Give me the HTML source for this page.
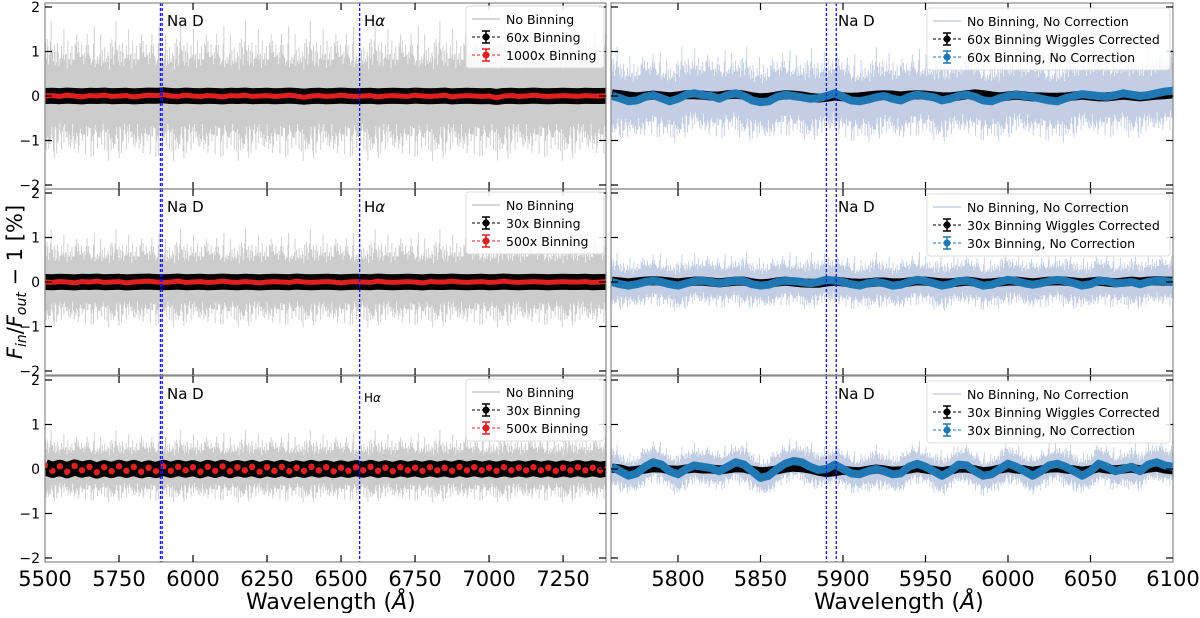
<!DOCTYPE html>
<html><head><meta charset="utf-8">
<style>
html,body{margin:0;padding:0;background:#fff;}
svg text{font-family:"DejaVu Sans","Liberation Sans",sans-serif;}
</style></head>
<body>
<svg id="c" width="1200" height="613" viewBox="0 0 1200 613" xmlns="http://www.w3.org/2000/svg"></svg>
<script>
// ---- data ----
const rowTops = [3, 189, 376];
const leftTickVals = [5500, 5750, 6000, 6250, 6500, 6750, 7000, 7250];
const rightTickVals = [5800, 5850, 5900, 5950, 6000, 6050, 6100];
const yTickVals = [-2, -1, 0, 1, 2];
const leftLines = [5889.95, 5895.92, 6562.8];
const rightLines = [5889.95, 5895.92];
const noiseJitter = [0.7,0.4,0.9,0.55,0.3,0.8,0.65,1.0,0.45,0.6,0.35,0.75,0.5,0.85,0.4,0.95,0.6,0.3,0.7,0.5,0.8,0.45,0.65,0.9,0.35,0.55,0.75,0.4,1.0,0.6,0.5,0.7,0.3,0.85,0.55,0.65,0.45,0.8,0.6,0.95,0.4,0.7,0.5,0.35,0.9,0.6,0.75,0.45,0.55,0.8,0.3,0.65,0.85,0.5,0.7,0.4,1.0,0.6,0.45,0.75,0.55,0.9,0.35,0.65,0.5,0.8,0.4,0.7,0.6,0.95,0.45,0.55,0.85,0.3,0.75,0.5,0.65,0.4,0.9,0.6,0.33];
const noiseAmpLeft = [1.35, 0.95, 0.7];
const noiseAmpRight = [0.9, 0.55, 0.45];
// right panel wavelengths 5760..6100 step 5
const blueR3 = [0.05,-0.05,-0.15,-0.1,0.05,0.15,0.1,-0.05,-0.12,0.0,0.08,0.05,0.02,-0.05,0.05,0.15,0.1,-0.05,-0.2,-0.15,0.0,0.12,0.18,0.15,0.05,-0.02,0.0,0.1,0.0,-0.1,-0.12,-0.05,0.0,-0.05,-0.12,-0.1,0.05,0.12,0.05,-0.05,-0.15,-0.05,0.1,0.08,-0.05,-0.15,-0.12,0.0,0.12,0.05,-0.05,-0.15,-0.05,0.08,0.12,0.05,-0.05,-0.15,-0.05,0.12,0.05,-0.05,0.0,0.05,-0.05,0.1,0.15,0.08,0.05];
const blackR3 = [0.02,0.0,-0.05,-0.03,0.0,0.03,0.02,-0.02,-0.03,0.0,0.02,0.0,0.0,-0.02,0.0,0.03,0.02,-0.03,-0.06,-0.05,-0.02,0.02,0.04,0.03,0.0,-0.05,-0.08,-0.06,-0.03,-0.05,-0.06,-0.03,0.0,-0.02,-0.05,-0.04,0.0,0.03,0.0,-0.03,-0.06,-0.03,0.02,0.02,-0.02,-0.06,-0.04,0.0,0.03,0.0,-0.02,-0.05,-0.02,0.02,0.03,0.0,-0.02,-0.05,-0.02,0.03,0.0,-0.02,0.0,0.02,-0.02,0.02,0.04,0.0,-0.02];
const blueR1 = [0.0,-0.05,-0.12,-0.1,-0.02,0.02,-0.05,-0.12,-0.06,0.03,0.06,0.02,0.0,-0.06,0.02,0.06,0.0,-0.1,-0.14,-0.12,-0.02,0.03,0.0,-0.03,-0.06,-0.05,0.0,0.06,-0.02,-0.1,-0.12,-0.08,-0.03,0.0,-0.06,-0.1,-0.02,0.03,0.0,-0.03,-0.1,-0.06,0.0,0.03,-0.02,-0.1,-0.12,-0.05,0.0,0.03,0.0,-0.02,-0.06,-0.1,-0.12,-0.05,0.0,0.04,0.02,0.0,-0.02,0.02,0.06,0.03,0.0,0.02,0.06,0.1,0.12];
const blackR1 = [0.05,0.03,0.0,-0.02,0.0,0.02,0.0,-0.02,0.0,0.03,0.03,0.02,0.0,0.0,0.03,0.04,0.02,-0.02,-0.04,-0.03,0.0,0.03,0.02,0.0,-0.03,-0.05,-0.03,0.0,-0.02,-0.03,-0.02,0.0,0.02,0.03,0.02,0.0,0.02,0.03,0.02,0.0,-0.02,-0.02,0.0,0.03,0.05,0.03,0.0,-0.02,0.0,0.02,0.0,-0.02,-0.02,-0.03,-0.03,-0.02,0.0,0.02,0.0,-0.02,-0.02,0.0,0.02,0.0,-0.02,0.0,0.02,0.03,0.05];
const blueR2 = [0.0,-0.05,-0.08,-0.05,0.0,0.03,0.0,-0.05,-0.08,-0.03,0.02,0.03,0.0,-0.03,0.0,0.03,0.02,-0.05,-0.08,-0.06,0.0,0.03,0.02,0.0,-0.03,0.0,0.05,0.03,0.0,-0.05,-0.08,-0.03,0.0,-0.03,-0.08,-0.06,0.0,0.05,0.02,-0.03,-0.08,-0.05,0.02,0.03,-0.02,-0.08,-0.06,0.0,0.05,0.02,-0.03,-0.06,-0.03,0.02,0.05,0.02,-0.03,-0.08,-0.05,0.03,0.02,-0.03,-0.02,0.0,-0.05,0.0,0.03,0.02,0.0];
const blackR2 = [0.02,0.0,-0.02,0.0,0.02,0.03,0.02,0.0,-0.02,0.0,0.02,0.02,0.0,-0.02,0.0,0.02,0.02,-0.02,-0.04,-0.03,0.0,0.02,0.0,-0.02,-0.03,-0.03,0.0,0.02,0.0,-0.02,-0.03,-0.02,0.0,0.0,-0.02,-0.02,0.0,0.03,0.02,0.0,-0.02,-0.02,0.0,0.02,0.0,-0.03,-0.02,0.0,0.02,0.02,0.0,-0.02,0.0,0.02,0.03,0.02,0.0,-0.02,0.0,0.02,0.0,-0.02,0.0,0.02,0.0,0.02,0.03,0.02,0.02];
// left panels 5500..7400 step 25
const redL3 = [0.08,-0.04,0.06,-0.06,0.07,-0.03,0.05,-0.07,0.04,-0.05,0.06,-0.04,0.05,-0.06,0.03,-0.05,0.06,-0.04,0.05,-0.03,0.04,-0.06,0.05,-0.04,0.06,-0.05,0.04,-0.03,0.05,-0.06,0.04,-0.04,0.05,-0.05,0.03,-0.04,0.05,-0.03,0.04,-0.05,0.03,-0.04,0.04,-0.03,0.05,-0.04,0.03,-0.05,0.04,-0.03,0.03,-0.04,0.04,-0.03,0.03,-0.04,0.05,-0.03,0.04,-0.03,0.03,-0.04,0.04,-0.03,0.03,-0.03,0.04,-0.03,0.03,-0.04,0.03,-0.03,0.04,-0.03,0.03,-0.03,0.02];
const redL1 = [0.0,0.01,-0.01,0.02,0.0,-0.02,0.01,0.0,0.02,-0.01,0.0,0.01,-0.02,0.0,0.02,0.01,0.03,0.0,-0.01,0.02,0.0,-0.01,0.01,0.0,-0.02,0.01,0.0,0.02,-0.01,0.0,0.01,-0.01,0.0,0.02,0.0,-0.03,0.0,0.01,-0.01,0.0,0.02,0.0,-0.01,0.0,0.01,-0.02,0.0,0.01,0.0,-0.01,0.02,0.0,-0.01,0.0,0.02,-0.02,0.0,0.01,0.0,-0.01,0.0,-0.04,0.0,0.01,-0.01,0.0,0.02,0.0,-0.01,0.0,0.01,0.0,-0.01,0.01,0.0,0.0,0.01];
const redL2 = [0.0,-0.01,0.01,0.0,-0.02,0.01,0.0,0.02,-0.01,0.0,0.01,-0.02,0.0,0.01,0.02,0.0,-0.01,0.0,0.02,-0.01,0.0,0.01,-0.01,0.0,0.02,0.0,-0.01,0.01,0.0,-0.02,0.0,0.01,0.0,-0.01,0.02,0.0,-0.01,0.0,0.01,0.0,-0.02,0.0,0.01,0.0,-0.01,0.02,0.0,-0.01,0.0,0.01,0.0,-0.02,0.01,0.0,0.0,0.02,0.0,-0.01,0.0,0.01,-0.01,0.0,0.02,0.0,-0.01,0.0,0.01,0.0,-0.01,0.0,0.01,0.0,0.0,0.01,-0.01,0.0,0.01];

const svg = document.getElementById('c');
const NS = 'http://www.w3.org/2000/svg';
function mk(tag, attrs, parent) {
  const e = document.createElementNS(NS, tag);
  for (const k in attrs) e.setAttribute(k, attrs[k]);
  (parent || svg).appendChild(e);
  return e;
}
const L = {x0: 45, x1: 606, w0: 5500, w1: 7395, id: 'L'};
const R = {x0: 611, x1: 1173, w0: 5759.4, w1: 6100, id: 'R'};
const H = 186, YMIN = -2.09, YMAX = 2.09;
function xs(p, w) { return p.x0 + (w - p.w0) / (p.w1 - p.w0) * (p.x1 - p.x0); }
function ys(top, v) { return top + (YMAX - v) / (YMAX - YMIN) * H; }
const defs = mk('defs', {});
function clipFor(p, top, r) {
  const id = 'clip' + p.id + r;
  const cp = mk('clipPath', {id: id}, defs);
  mk('rect', {x: p.x0, y: top, width: p.x1 - p.x0, height: H}, cp);
  return 'url(#' + id + ')';
}

function noise(g, p, top, amp, color, center) {
  let d = '';
  const n = noiseJitter.length;
  for (let x = p.x0 + 0.5, i = 0; x < p.x1; x += 0.8, i++) {
    const w = p.w0 + (x - p.x0) / (p.x1 - p.x0) * (p.w1 - p.w0);
    const c = center ? center(w) : 0;
    const up = amp * (0.35 + 0.95 * noiseJitter[i % n] * noiseJitter[(i * 13 + 5) % n]);
    const dn = amp * (0.35 + 0.95 * noiseJitter[(i * 7 + 37) % n] * noiseJitter[(i * 3 + 19) % n]);
    d += `M${x.toFixed(1)} ${ys(top, c + up).toFixed(1)}V${ys(top, c - dn).toFixed(1)}`;
  }
  mk('path', {d: d, stroke: color, 'stroke-width': 0.9, fill: 'none'}, g);
}
function interp(arr, w0, step) {
  return function (w) {
    let f = (w - w0) / step; let i = Math.floor(f);
    if (i < 0) return arr[0]; if (i >= arr.length - 1) return arr[arr.length - 1];
    f -= i; return arr[i] * (1 - f) + arr[i + 1] * f;
  };
}
function series(g, p, top, arr, w0, step, color, width, name) {
  let d = '';
  arr.forEach((v, i) => {
    const w = w0 + i * step;
    d += (d ? 'L' : 'M') + xs(p, w).toFixed(1) + ' ' + ys(top, v).toFixed(1);
  });
  const e = mk('path', {d: d, stroke: color, 'stroke-width': width, fill: 'none', 'stroke-linejoin': 'round'}, g);
  
  
}
function dots(g, p, top, arr, w0, step, color, r, name) {
  const gg = mk('g', {}, g);
  
  
  arr.forEach((v, i) => {
    mk('circle', {cx: xs(p, w0 + i * step).toFixed(1), cy: ys(top, v).toFixed(1), r: r, fill: color}, gg);
  });
}
function frame(p, top, showYLabels, ticks, name) {
  const g = mk('g', {});
  
  
  mk('rect', {x: p.x0, y: top, width: p.x1 - p.x0, height: H, fill: 'none', stroke: '#888', 'stroke-width': 1.2}, g);
  ticks.forEach(t => {
    const x = xs(p, t);
    if (x < p.x0 + 1 || x > p.x1 - 1) return;
    mk('line', {x1: x, x2: x, y1: top, y2: top + 7, stroke: '#000', 'stroke-width': 1.2}, g);
    mk('line', {x1: x, x2: x, y1: top + H, y2: top + H - 7, stroke: '#000', 'stroke-width': 1.2}, g);
  });
  yTickVals.forEach(v => {
    const y = ys(top, v);
    mk('line', {x1: p.x0, x2: p.x0 + 7, y1: y, y2: y, stroke: '#000', 'stroke-width': 1.2}, g);
    mk('line', {x1: p.x1, x2: p.x1 - 7, y1: y, y2: y, stroke: '#000', 'stroke-width': 1.2}, g);
    if (showYLabels) {
      const t = mk('text', {x: p.x0 - 5, y: y + 5, 'text-anchor': 'end', 'font-size': 14, fill: '#000'}, g);
      t.textContent = v < 0 ? '\u2212' + (-v) : String(v);
    }
  });
}
function vlines(g, p, top, arr) {
  arr.forEach(w => {
    const x = xs(p, w);
    const e = mk('line', {x1: x, x2: x, y1: top, y2: top + H, stroke: '#1010ff', 'stroke-width': 1.3, 'stroke-dasharray': '3,2'}, g);
    
    
  });
}
function label(x, y, txt, size, name) {
  const t = mk('text', {x: x, y: y, 'font-size': size, fill: '#000'});
  
  
  t.innerHTML = txt;
}
function legend(x, y, w, entries, name) {
  const g = mk('g', {});
  
  
  mk('rect', {x: x, y: y, width: w, height: 18 * entries.length + 8, rx: 3, fill: 'rgba(255,255,255,0.85)', stroke: '#ddd'}, g);
  entries.forEach((en, i) => {
    const cy = y + 13 + i * 18;
    if (en.type === 'line') {
      mk('line', {x1: x + 6, x2: x + 34, y1: cy, y2: cy, stroke: en.color, 'stroke-width': 1.5}, g);
    } else {
      mk('line', {x1: x + 6, x2: x + 34, y1: cy, y2: cy, stroke: en.color, 'stroke-width': 1, 'stroke-dasharray': '3,2'}, g);
      mk('line', {x1: x + 20, x2: x + 20, y1: cy - 6, y2: cy + 6, stroke: en.color, 'stroke-width': 1.5}, g);
      mk('line', {x1: x + 16, x2: x + 24, y1: cy - 6, y2: cy - 6, stroke: en.color, 'stroke-width': 1.5}, g);
      mk('line', {x1: x + 16, x2: x + 24, y1: cy + 6, y2: cy + 6, stroke: en.color, 'stroke-width': 1.5}, g);
      mk('circle', {cx: x + 20, cy: cy, r: 3.5, fill: en.color}, g);
    }
    const t = mk('text', {x: x + 40, y: cy + 5, 'font-size': 12.5, fill: '#000'}, g);
    t.textContent = en.text;
  });
}

const blueCenters = [interp(blueR1, 5760, 5), interp(blueR2, 5760, 5), interp(blueR3, 5760, 5)];
const blues = [blueR1, blueR2, blueR3], blacks = [blackR1, blackR2, blackR3];
const reds = [redL1, redL2, redL3];
const binLabels = [['60x Binning', '1000x Binning'], ['30x Binning', '500x Binning'], ['30x Binning', '500x Binning']];
const rBin = ['60x', '30x', '30x'];

rowTops.forEach((top, r) => {
  const gl = mk('g', {'clip-path': clipFor(L, top, r)});
  
  
  noise(gl, L, top, noiseAmpLeft[r], '#cccccc', null);
  series(gl, L, top, reds[r].map(v => v * 0.5), 5500, 25, '#000', 16, 'black-binned-band-left-' + (r + 1));
  if (r === 2) dots(gl, L, top, redL3, 5500, 25, '#e02020', 3.2, 'red-binned-points-left-3');
  else series(gl, L, top, reds[r], 5500, 25, '#e02020', 5, 'red-binned-line-left-' + (r + 1));
  vlines(gl, L, top, leftLines);
  frame(L, top, true, leftTickVals, 'left-axes-' + (r + 1));
  label(167, top + 23, 'Na D', 15, 'na-d-label-left');
  if (r === 2) label(364, top + 26, 'H<tspan font-style="italic">\u03b1</tspan>', 12, 'h-alpha-label');
  else label(364, top + 23, 'H<tspan font-style="italic">\u03b1</tspan>', 15, 'h-alpha-label');
  legend(466, top + 3, 138, [
    {type: 'line', color: '#c8c8c8', text: 'No Binning'},
    {type: 'err', color: '#000', text: binLabels[r][0]},
    {type: 'err', color: '#e02020', text: binLabels[r][1]}], 'legend-left-' + (r + 1));
  const gr = mk('g', {'clip-path': clipFor(R, top, r)});
  
  
  noise(gr, R, top, noiseAmpRight[r], '#c3cde3', blueCenters[r]);
  series(gr, R, top, blacks[r], 5760, 5, '#000', 9, 'black-corrected-right-' + (r + 1));
  series(gr, R, top, blues[r], 5760, 5, '#1f77b4', 8, 'blue-uncorrected-right-' + (r + 1));
  vlines(gr, R, top, rightLines);
  frame(R, top, false, rightTickVals, 'right-axes-' + (r + 1));
  label(838, top + 23, 'Na D', 15, 'na-d-label-right');
  legend(927, top + 5, 243, [
    {type: 'line', color: '#c3cde3', text: 'No Binning, No Correction'},
    {type: 'err', color: '#000', text: rBin[r] + ' Binning Wiggles Corrected'},
    {type: 'err', color: '#1f77b4', text: rBin[r] + ' Binning, No Correction'}], 'legend-right-' + (r + 1));
});

leftTickVals.forEach(t => {
  const e = mk('text', {x: xs(L, t), y: 586, 'text-anchor': 'middle', 'font-size': 21, fill: '#000'});
  
  
  e.textContent = t;
});
rightTickVals.forEach(t => {
  const e = mk('text', {x: xs(R, t), y: 586, 'text-anchor': 'middle', 'font-size': 21, fill: '#000'});
  
  
  e.textContent = t;
});
label(246, 609, 'Wavelength (<tspan font-style="italic">\u00c5</tspan>)', 22, 'x-axis-title-left');
label(814, 609, 'Wavelength (<tspan font-style="italic">\u00c5</tspan>)', 22, 'x-axis-title-right');
const yl = mk('text', {x: 0, y: 0, 'font-size': 21, fill: '#000', 'text-anchor': 'middle', transform: 'translate(22,282) rotate(-90)'});


yl.innerHTML = '<tspan font-style="italic">F</tspan><tspan font-style="italic" font-size="14" dy="4">in</tspan><tspan dy="-4">/</tspan><tspan font-style="italic">F</tspan><tspan font-style="italic" font-size="14" dy="4">out</tspan><tspan dy="-4"> \u2212 1 [%]</tspan>';
</script>
</body></html>
